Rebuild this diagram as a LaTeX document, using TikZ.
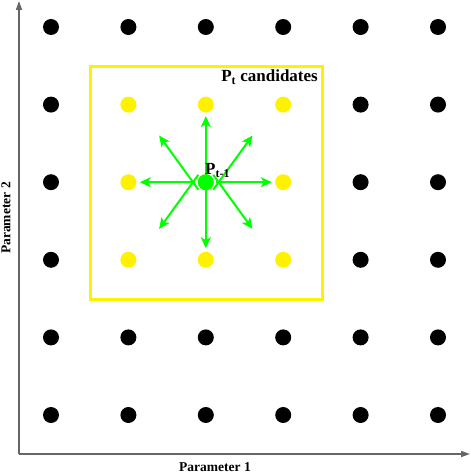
\documentclass[tikz,border=0pt]{standalone}
\usepackage{fontspec}
\setmainfont{Liberation Serif}
\usetikzlibrary{positioning,arrows.meta}
\tikzset{
  griddot/.style={circle, fill=black, minimum size=16pt, inner sep=0pt},
  canddot/.style={circle, fill=yellow, minimum size=16pt, inner sep=0pt},
  centerdot/.style={circle, fill=green, minimum size=16pt, inner sep=0pt, outer sep=2.5pt},
  movearrow/.style={-{Stealth[length=11pt, width=10pt, inset=3pt]}, green, line width=2pt},
  axisline/.style={-{Triangle[length=9pt, width=6pt]}, black!60, line width=1.6pt},
  candbox/.style={draw=yellow, line width=3pt, minimum width=232pt, minimum height=232pt, inner sep=0pt},
  boldlabel/.style={font=\fontsize{13.5}{15}\selectfont\bfseries, inner sep=0pt}
}

\begin{document}
\begin{tikzpicture}[x=1pt, y=-1pt]
  \useasboundingbox (0,0) rectangle (471,473);
  % axes
  \coordinate (origin) at (19,454);
  \coordinate (xend) at (470,454);
  \coordinate (yend) at (19,1);
  \draw[axisline] (origin) -- (xend);
  \draw[axisline] (origin) -- (yend);
  \node[boldlabel] (xlab) at (215,467) {Parameter 1};
  \node[boldlabel, rotate=90] (ylab) at (6,218) {Parameter 2};
  % candidate window
  \node[candbox] (box) at (206,183) {};
  \node[boldlabel, font=\fontsize{17}{19}\selectfont\bfseries, anchor=base east] (boxlab) at (318,82) {P\textsubscript{t} candidates};
  % parameter grid
  \foreach \i in {0,...,5}
    \foreach \j in {0,...,5} {
      \pgfmathtruncatemacro{\inbox}{(\i>0)*(\i<4)*(\j>0)*(\j<4)}
      \ifnum\inbox=1
        \node[canddot] (p\i\j) at (51+77.4*\i, 27+77.6*\j) {};
      \else
        \node[griddot] (p\i\j) at (51+77.4*\i, 27+77.6*\j) {};
      \fi
    }
  % previous point and its moves
  \node[centerdot] (prev) at (p22) {};
  \foreach \a in {0,45,...,315} {
    \coordinate (tip\a) at ([shift={(\a:66)}]prev.center);
    \draw[movearrow] (prev.\a) -- (tip\a);
  }
  \node[boldlabel, font=\fontsize{17}{19}\selectfont\bfseries, anchor=base west] (prevlab) at (205,175) {P\textsubscript{t-1}};
\end{tikzpicture}
\end{document}
